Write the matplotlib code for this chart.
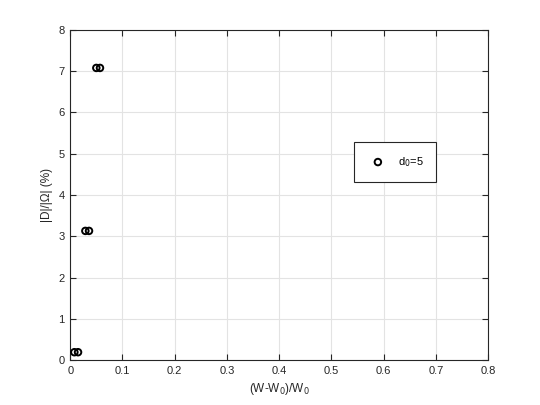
import matplotlib
matplotlib.use("Agg")
import matplotlib.pyplot as plt

plt.rcParams['font.family'] = ['Liberation Sans', 'DejaVu Sans']

# datos
x_vals = [0.008, 0.015, 0.029, 0.036, 0.050, 0.057]
y_vals = [0.19, 0.19, 3.13, 3.13, 7.08, 7.08]
etiqueta = "d$_0$=5"

fig = plt.figure(figsize=(5.4, 4.05), dpi=100)
ax = fig.add_axes([0.13, 0.111, 0.774, 0.815])

ax.scatter(x_vals, y_vals, s=22, facecolors="none", edgecolors="black",
           linewidths=1.4, label=etiqueta, zorder=3)

ax.set_xlim(0, 0.8)
ax.set_ylim(0, 8)
ax.set_xticks([0, 0.1, 0.2, 0.3, 0.4, 0.5, 0.6, 0.7, 0.8])
ax.set_xticklabels(["0", "0.1", "0.2", "0.3", "0.4", "0.5", "0.6", "0.7", "0.8"])
ax.set_yticks(range(0, 9))

ax.grid(True, color="#e3e3e3", linewidth=0.8)
ax.set_axisbelow(True)
ax.tick_params(direction="in", length=4, width=0.8, labelsize=8,
               colors="#262626", top=True, right=True, pad=4)
for sp in ax.spines.values():
    sp.set_color("#262626")
    sp.set_linewidth(0.8)

ax.set_xlabel("(W-W$_0$)/W$_0$", fontsize=8.5, color="#262626")
ax.set_ylabel("|D|/|\u03a9| (%)", fontsize=8.5, color="#262626")

leg = ax.legend(loc="upper left", bbox_to_anchor=(0.679, 0.66), fontsize=8,
                fancybox=False, edgecolor="#262626", framealpha=1,
                borderpad=1.15, handletextpad=0.8, borderaxespad=0)
leg.get_frame().set_linewidth(0.8)

fig.savefig("out.png", dpi=100)
